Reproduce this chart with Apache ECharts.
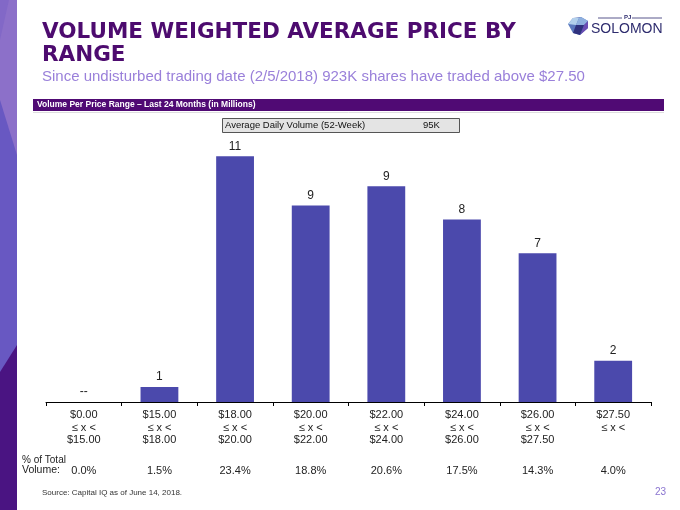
<!DOCTYPE html>
<html>
<head>
<meta charset="utf-8">
<script src="https://cdn.jsdelivr.net/npm/echarts@6/dist/echarts.min.js"></script>
<style>
html,body{margin:0;padding:0;background:#fff;}
#chart{width:680px;height:510px;}
</style>
</head>
<body>
<div id="chart"></div>
<script>
// ---- data ----
var rangeLow  = ['$0.00', '$15.00', '$18.00', '$20.00', '$22.00', '$24.00', '$26.00', '$27.50'];
var rangeHigh = ['$15.00', '$18.00', '$20.00', '$22.00', '$24.00', '$26.00', '$27.50', ''];
var volumes   = [0, 0.66, 10.76, 8.61, 9.45, 7.99, 6.51, 1.81]; // millions of shares
var pctOfTotal = ['0.0%', '1.5%', '23.4%', '18.8%', '20.6%', '17.5%', '14.3%', '4.0%'];

var titleLines = ['VOLUME WEIGHTED AVERAGE PRICE BY', 'RANGE'];
var subtitle = 'Since undisturbed trading date (2/5/2018) 923K shares have traded above $27.50';
var sectionHeader = 'Volume Per Price Range \u2013 Last 24 Months (in Millions)';
var advLabel = 'Average Daily Volume (52-Week)';
var advValue = '95K';
var sourceNote = 'Source: Capital IQ as of June 14, 2018.';
var pageNumber = '23';

var categories = rangeLow.map(function (lo, i) {
  return lo + '\n\u2264 x <\n' + rangeHigh[i];
});

var FONT = '"Liberation Sans", Arial, sans-serif';
var chart = echarts.init(document.getElementById('chart'), null, {renderer: 'canvas'});

var graphics = [
  // left decorative band
  {type: 'rect', shape: {x: 0, y: 0, width: 17, height: 510}, style: {fill: '#6858C2'}, silent: true},
  {type: 'polygon', shape: {points: [[0, 0], [17, 0], [17, 155], [0, 100]]}, style: {fill: '#8C70C9'}, silent: true},
  {type: 'polygon', shape: {points: [[0, 0], [9, 0], [0, 40]]}, style: {fill: '#8268C7'}, silent: true},
  {type: 'polygon', shape: {points: [[0, 372], [17, 345], [17, 510], [0, 510]]}, style: {fill: '#4A1482'}, silent: true},

  // title
  {type: 'text', left: 42, top: 21, style: {text: titleLines[0], font: 'bold 21.5px "DejaVu Sans", sans-serif', fill: '#4D0B6F'}},
  {type: 'text', left: 42, top: 44, style: {text: titleLines[1], font: 'bold 21.5px "DejaVu Sans", sans-serif', fill: '#4D0B6F'}},
  {type: 'text', left: 42, top: 69, style: {text: subtitle, font: '15px ' + FONT, fill: '#9A80DA'}},

  // logo
  {type: 'polygon', shape: {points: [[568, 24], [573, 18], [581, 17], [588, 21], [588, 28], [580, 35], [573, 33]]}, style: {fill: '#5B78BE'}, silent: true},
  {type: 'polygon', shape: {points: [[568, 24], [573, 18], [579, 18], [576, 25]]}, style: {fill: '#B2D0EC'}, silent: true},
  {type: 'polygon', shape: {points: [[579, 18], [581, 17], [588, 21], [584, 25], [576, 25]]}, style: {fill: '#8FB0DF'}, silent: true},
  {type: 'polygon', shape: {points: [[584, 25], [588, 21], [588, 28], [580, 35]]}, style: {fill: '#6B4DB3'}, silent: true},
  {type: 'polygon', shape: {points: [[576, 25], [584, 25], [580, 35], [573, 33]]}, style: {fill: '#2F317E'}, silent: true},
  {type: 'line', shape: {x1: 598, y1: 18, x2: 622, y2: 18}, style: {stroke: '#2E2C6E', lineWidth: 0.8}, silent: true},
  {type: 'line', shape: {x1: 632, y1: 18, x2: 662, y2: 18}, style: {stroke: '#2E2C6E', lineWidth: 0.8}, silent: true},
  {type: 'text', left: 624, top: 14, style: {text: 'PJ', font: 'bold 6px ' + FONT, fill: '#2E2C6E'}},
  {type: 'text', left: 591, top: 22, style: {text: 'SOLOMON', font: '14px ' + FONT, fill: '#2E2C6E'}},

  // section header bar
  {type: 'rect', shape: {x: 33, y: 99, width: 631, height: 12}, style: {fill: '#500A74'}, silent: true},
  {type: 'line', shape: {x1: 33, y1: 112.5, x2: 664, y2: 112.5}, style: {stroke: '#DDDDDD', lineWidth: 1}, silent: true},
  {type: 'text', left: 37, top: 100.5, style: {text: sectionHeader, font: 'bold 8.5px ' + FONT, fill: '#FFFFFF'}},

  // ADV box
  {type: 'rect', shape: {x: 222.5, y: 118.5, width: 237, height: 14}, style: {fill: '#E4E4E4', stroke: '#555555', lineWidth: 1}, silent: true},
  {type: 'text', left: 225, top: 120.5, style: {text: advLabel, font: '9.5px ' + FONT, fill: '#111'}},
  {type: 'text', left: 423, top: 120.5, style: {text: advValue, font: '9.5px ' + FONT, fill: '#111'}},

  // % of total label
  {type: 'text', left: 22, top: 455, style: {text: '% of Total', font: '10px ' + FONT, fill: '#222'}},
  {type: 'text', left: 22, top: 465, style: {text: 'Volume:', font: '10.5px ' + FONT, fill: '#222'}},

  // footer
  {type: 'text', left: 42, top: 489, style: {text: sourceNote, font: '8px ' + FONT, fill: '#333'}},
  {type: 'text', left: 655, top: 487, style: {text: pageNumber, font: '10px ' + FONT, fill: '#8A74D0'}}
];

var option = {
  animation: false,
  grid: {left: 46, right: 29, top: 128, height: 274},
  xAxis: [
    {
      type: 'category',
      data: categories,
      axisLine: {lineStyle: {color: '#000', width: 1}},
      axisTick: {show: true, length: 4, lineStyle: {color: '#000'}},
      axisLabel: {interval: 0, fontSize: 11, lineHeight: 12.5, color: '#222', margin: 7, fontFamily: FONT}
    },
    {
      type: 'category',
      position: 'bottom',
      data: pctOfTotal,
      axisLine: {show: false},
      axisTick: {show: false},
      axisLabel: {interval: 0, fontSize: 11, color: '#222', margin: 63, fontFamily: FONT}
    }
  ],
  yAxis: {type: 'value', min: 0, max: 12, show: false, splitLine: {show: false}},
  series: [{
    type: 'bar',
    data: volumes,
    barWidth: '50%',
    itemStyle: {color: '#4B49AC'},
    label: {
      show: true,
      position: 'top',
      distance: 4,
      fontSize: 12,
      color: '#222',
      fontFamily: FONT,
      formatter: function (p) { return p.value === 0 ? '--' : String(Math.round(p.value)); }
    }
  }],
  graphic: graphics
};
chart.setOption(option);
</script>
</body>
</html>
